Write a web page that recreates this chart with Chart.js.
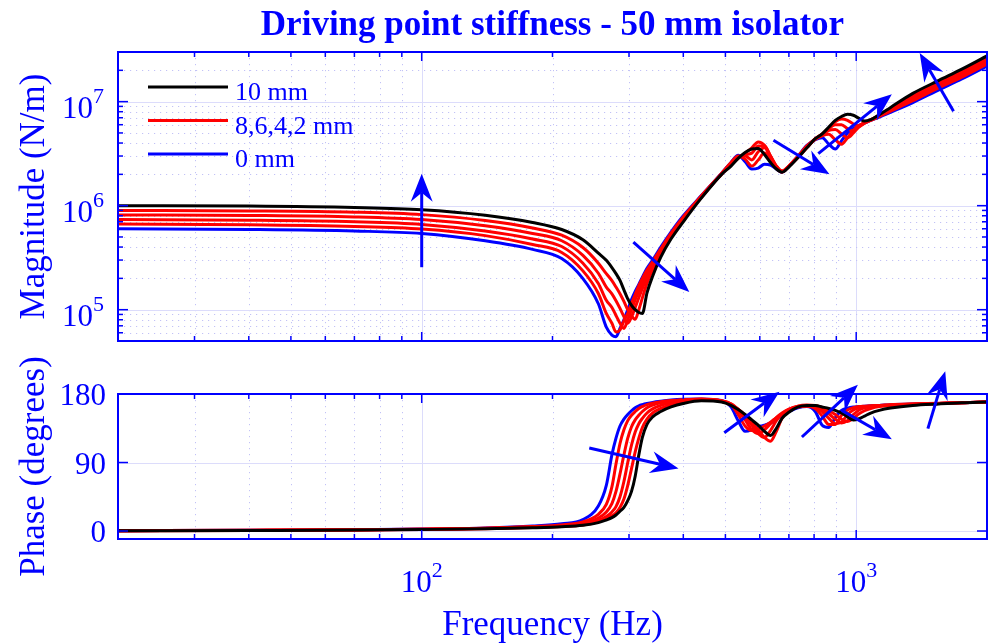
<!DOCTYPE html>
<html lang="en">
<head>
<meta charset="UTF-8">
<title>Driving point stiffness - 50 mm isolator</title>
<script src="https://cdn.jsdelivr.net/npm/chart.js"></script>
<style>
  body { margin: 0; background: #fff; }
  #wrap { position: relative; width: 988px; height: 643px; }
  #wrap canvas { position: absolute; left: 0; }
  #magChart { top: 0; }
  #phaseChart { top: 345px; }
</style>
</head>
<body>
<div id="wrap">
  <canvas id="magChart" width="988" height="345"></canvas>
  <canvas id="phaseChart" width="988" height="298"></canvas>
</div>
<script>
// frequency points (Hz) shared by every curve
const freq = [20, 40, 70, 100, 140, 180, 210, 235, 255, 266, 274, 280, 286, 292, 298, 304, 310, 316, 322, 330,
  340, 355, 375, 400, 440, 490, 515, 535, 555, 575, 595, 615, 635, 655, 675, 700, 735, 770, 805, 835,
  865, 895, 925, 955, 985, 1015, 1045, 1080, 1130, 1200, 1350, 1550, 1750, 2000];

// stiffness magnitude (N/m), one array per preload
const mag10mm = [1.0e6, 9.9e5, 9.6e5, 9.15e5, 8.1e5, 6.9e5, 5.9e5, 4.7e5, 3.5e5, 2.98e5, 2.54e5, 2.22e5, 1.91e5, 1.55e5, 1.27e5, 1.1e5, 1.0e5, 9.4e4, 9.2e4, 1.45e5,
  2.1e5, 3.2e5, 4.8e5, 7.0e5, 1.18e6, 2.0e6, 2.4e6, 2.85e6, 3.25e6, 3.5e6, 3.55e6, 3.1e6, 2.6e6, 2.25e6, 2.1e6, 2.35e6, 2.9e6, 3.6e6, 4.4e6, 4.9e6,
  5.7e6, 6.6e6, 7.2e6, 7.55e6, 7.4e6, 6.9e6, 6.5e6, 6.7e6, 7.5e6, 8.8e6, 1.2e7, 1.6e7, 2.05e7, 2.75e7];
const mag8mm = [9.0e5, 8.9e5, 8.65e5, 8.2e5, 7.2e5, 6.1e5, 5.2e5, 3.96e5, 2.8e5, 2.22e5, 1.9e5, 1.65e5, 1.42e5, 1.2e5, 1.0e5, 8.7e4, 8.1e4, 1.0e5, 1.3e5, 1.8e5,
  2.4e5, 3.4e5, 4.95e5, 7.2e5, 1.2e6, 2.01e6, 2.45e6, 2.85e6, 3.2e6, 3.6e6, 4.1e6, 3.8e6, 3.0e6, 2.4e6, 2.15e6, 2.4e6, 2.9e6, 3.6e6, 4.4e6, 4.9e6,
  5.6e6, 6.4e6, 6.8e6, 6.6e6, 6.1e6, 5.8e6, 6.2e6, 6.7e6, 7.4e6, 8.6e6, 1.16e7, 1.54e7, 1.97e7, 2.62e7];
const mag6mm = [8.15e5, 8.05e5, 7.8e5, 7.35e5, 6.4e5, 5.4e5, 4.6e5, 3.33e5, 2.24e5, 1.65e5, 1.42e5, 1.22e5, 1.03e5, 8.6e4, 7.4e4, 8.5e4, 1.05e5, 1.3e5, 1.6e5, 2.05e5,
  2.6e5, 3.55e5, 5.1e5, 7.4e5, 1.22e6, 2.02e6, 2.5e6, 2.9e6, 3.1e6, 3.2e6, 3.75e6, 3.75e6, 3.0e6, 2.4e6, 2.15e6, 2.4e6, 2.95e6, 3.65e6, 4.4e6, 4.85e6,
  5.5e6, 6.0e6, 6.0e6, 5.5e6, 5.2e6, 5.7e6, 6.3e6, 6.7e6, 7.35e6, 8.5e6, 1.11e7, 1.48e7, 1.88e7, 2.5e7];
const mag4mm = [7.35e5, 7.25e5, 7.0e5, 6.6e5, 5.7e5, 4.78e5, 4.05e5, 2.8e5, 1.79e5, 1.23e5, 1.05e5, 8.8e4, 7.4e4, 6.6e4, 8.0e4, 1.0e5, 1.25e5, 1.5e5, 1.8e5, 2.25e5,
  2.75e5, 3.7e5, 5.3e5, 7.6e5, 1.23e6, 2.03e6, 2.55e6, 2.95e6, 3.0e6, 2.75e6, 3.3e6, 3.6e6, 2.95e6, 2.35e6, 2.12e6, 2.4e6, 2.95e6, 3.7e6, 4.35e6, 4.8e6,
  5.3e6, 5.4e6, 4.9e6, 4.5e6, 5.0e6, 5.8e6, 6.3e6, 6.65e6, 7.3e6, 8.3e6, 1.07e7, 1.42e7, 1.8e7, 2.4e7];
const mag2mm = [6.65e5, 6.55e5, 6.3e5, 5.95e5, 5.15e5, 4.23e5, 3.55e5, 2.36e5, 1.43e5, 9.2e4, 7.4e4, 6.1e4, 6.4e4, 7.8e4, 9.2e4, 1.15e5, 1.4e5, 1.7e5, 2.0e5, 2.4e5,
  2.9e5, 3.85e5, 5.45e5, 7.8e5, 1.24e6, 2.04e6, 2.6e6, 3.0e6, 2.8e6, 2.4e6, 2.75e6, 3.2e6, 2.85e6, 2.3e6, 2.1e6, 2.4e6, 3.0e6, 3.75e6, 4.35e6, 4.7e6,
  4.85e6, 4.3e6, 3.9e6, 4.5e6, 5.3e6, 5.9e6, 6.25e6, 6.6e6, 7.2e6, 8.1e6, 1.02e7, 1.36e7, 1.72e7, 2.3e7];
const mag0mm = [6.0e5, 5.9e5, 5.7e5, 5.4e5, 4.6e5, 3.8e5, 3.1e5, 1.99e5, 1.14e5, 6.8e4, 5.7e4, 5.5e4, 6.6e4, 8.0e4, 1.0e5, 1.25e5, 1.5e5, 1.75e5, 2.05e5, 2.5e5,
  3.0e5, 4.0e5, 5.6e5, 8.0e5, 1.25e6, 2.05e6, 2.6e6, 3.05e6, 2.65e6, 2.25e6, 2.3e6, 2.5e6, 2.45e6, 2.25e6, 2.1e6, 2.4e6, 3.0e6, 3.8e6, 4.3e6, 4.5e6,
  3.9e6, 3.5e6, 4.2e6, 5.0e6, 5.5e6, 5.9e6, 6.2e6, 6.6e6, 7.1e6, 7.9e6, 9.8e6, 1.3e7, 1.65e7, 2.2e7];

// phase (degrees)
const phase10mm = [0.3, 0.7, 1.2, 2.0, 3.0, 4.3, 5.6, 7.5, 11, 14.5, 17.5, 21, 26, 31, 40, 52, 72, 100, 123, 140,
  150, 157, 163, 167.5, 171, 169.5, 165, 159.5, 153, 146, 139, 131, 125.5, 135, 148, 156, 163, 165, 165, 163,
  161, 158.5, 155, 150, 146, 147.5, 151, 155, 158.5, 161.5, 165, 167, 168.5, 169.5];
const phase8mm = [0.35, 0.75, 1.3, 2.1, 3.1, 4.6, 6, 8, 12, 16, 20, 24, 31, 42, 60, 82, 104, 122, 136, 147,
  155, 161, 166, 170, 172, 170, 166, 160, 152, 143, 133, 123, 118, 131, 148, 158, 164, 165.5, 165, 162,
  158, 153, 147, 144, 148, 154, 158, 161, 163.5, 165, 166.5, 167.5, 168.5, 169.5];
const phase6mm = [0.4, 0.8, 1.4, 2.2, 3.3, 5, 6.5, 9, 14, 19, 25, 32, 45, 65, 90, 113, 130, 141, 148, 155,
  160.5, 165, 168.5, 171, 172.5, 170.5, 167, 160, 151, 139, 128, 123, 132, 145, 154, 160, 164, 165, 164, 160,
  154, 147, 142, 145, 153, 159, 162, 163.5, 164.5, 165.5, 166.5, 167.5, 168.5, 169.5];
const phase4mm = [0.45, 0.85, 1.5, 2.3, 3.5, 5.5, 7, 10.5, 17, 25, 36, 52, 75, 100, 122, 137, 146, 152, 157, 162,
  165.5, 168.5, 170.5, 172, 173, 171, 167, 158, 146, 133, 128, 133, 141, 149, 155, 160, 163.5, 164.5, 163, 157,
  148, 141, 143, 153, 159, 162, 163.5, 164, 164.5, 165.5, 166.5, 167.5, 168.5, 169.5];
const phase2mm = [0.5, 0.9, 1.55, 2.4, 3.7, 6, 8, 12, 22, 35, 58, 88, 115, 133, 145, 152, 157, 161, 163.5, 166,
  168, 170, 171.5, 172.5, 173.3, 171, 166, 153, 138, 132, 134, 138, 143, 149, 154, 159, 163, 164, 161, 151,
  140, 140, 152, 159, 162, 163.5, 164, 164.5, 165, 166, 167, 168, 168.5, 169.5];
const phase0mm = [0.5, 1.0, 1.6, 2.5, 4, 6.5, 9.5, 15, 33, 60, 100, 122, 138, 147, 153, 158, 162, 164.5, 166, 167.5,
  169, 170.5, 172, 173, 173.5, 171.5, 163, 145, 131, 133, 137, 139, 142, 147, 152, 157, 162, 163.5, 157, 139,
  136, 149, 158.5, 161.5, 163, 163.5, 164, 164.5, 165, 166, 167, 167.5, 168.5, 169.5];

const magTicks = [1e5, 1e6, 1e7];
const freqTicks = [100, 1000];
const phaseTicks = [0, 90, 180];

const legendLabels = ['10 mm', '8,6,4,2 mm', '0 mm'];
const legendColors = ['#000000', '#ff0000', '#0000ff'];

// trend arrows, given as [f0, v0, f1, v1] in axis units (tail -> head)
const magArrows = [
  [100, 2.56e5, 100, 2.03e6],
  [307, 4.47e5, 413, 1.48e5],
  [645, 4.25e6, 868, 2.0e6],
  [818, 3.16e6, 1208, 1.18e7],
  [1675, 8.1e6, 1400, 2.93e7]
];
const phaseArrows = [
  [243, 109, 390, 82],
  [497, 129, 666, 183],
  [750, 123.5, 1009, 192],
  [926, 158.5, 1208, 120.5],
  [1462, 134.5, 1603, 210]
];

const BLUE = '#0000ff';
const GRID_MAJOR = '#dcdcfb';
const GRID_MINOR = '#c2c2f6';
const SERIF = "'Liberation Serif', 'Times New Roman', serif";

// black on top, reds, blue underneath
const curves = [
  { mag: mag10mm, phase: phase10mm, color: '#000000' },
  { mag: mag8mm, phase: phase8mm, color: '#ff0000' },
  { mag: mag6mm, phase: phase6mm, color: '#ff0000' },
  { mag: mag4mm, phase: phase4mm, color: '#ff0000' },
  { mag: mag2mm, phase: phase2mm, color: '#ff0000' },
  { mag: mag0mm, phase: phase0mm, color: '#0000ff' }
];

function makeDatasets(key) {
  return curves.map(c => ({
    data: freq.map((f, i) => ({ x: f, y: c[key][i] })),
    borderColor: c.color,
    borderWidth: 3,
    pointRadius: 0,
    cubicInterpolationMode: 'monotone',
    fill: false
  }));
}

// 1..9 x 10^n steps within a log range
function logSteps(min, max) {
  const out = [];
  for (let e = Math.floor(Math.log10(min)); e <= Math.ceil(Math.log10(max)); e++) {
    for (let k = 1; k < 10; k++) {
      const v = k * Math.pow(10, e);
      if (v >= min * 0.999 && v <= max * 1.001) out.push({ v: v, major: k === 1 });
    }
  }
  return out;
}

function seg(ctx, x0, y0, x1, y1) {
  ctx.beginPath();
  ctx.moveTo(x0, y0);
  ctx.lineTo(x1, y1);
  ctx.stroke();
}

function powerLabel(ctx, value, x, yBase, align) {
  const base = '10';
  const sup = String(Math.round(Math.log10(value)));
  ctx.font = '31px ' + SERIF;
  const wb = ctx.measureText(base).width;
  ctx.font = '22px ' + SERIF;
  const ws = ctx.measureText(sup).width;
  const x0 = align === 'right' ? x - wb - ws : x - (wb + ws) / 2;
  ctx.textAlign = 'left';
  ctx.textBaseline = 'alphabetic';
  ctx.font = '31px ' + SERIF;
  ctx.fillText(base, x0, yBase);
  ctx.font = '22px ' + SERIF;
  ctx.fillText(sup, x0 + wb, yBase - 15);
}

function arrow(ctx, x1, y1, x2, y2) {
  const a = Math.atan2(y2 - y1, x2 - x1);
  const ux = Math.cos(a), uy = Math.sin(a);
  const L = 28, W = 11, N = 19;
  const bx = x2 - ux * L, by = y2 - uy * L;
  const nx = x2 - ux * N, ny = y2 - uy * N;
  ctx.strokeStyle = BLUE;
  ctx.lineWidth = 3;
  seg(ctx, x1, y1, nx, ny);
  ctx.fillStyle = BLUE;
  ctx.beginPath();
  ctx.moveTo(x2, y2);
  ctx.lineTo(bx - uy * W, by + ux * W);
  ctx.lineTo(nx, ny);
  ctx.lineTo(bx + uy * W, by - ux * W);
  ctx.closePath();
  ctx.fill();
}

function axesPlugin(cfg) {
  return {
    id: 'axesDecor',
    beforeDatasetsDraw(chart) {
      const { ctx, chartArea: a, scales: { x, y } } = chart;
      ctx.save();
      ctx.lineWidth = 1;
      logSteps(x.min, x.max).forEach(t => {
        const px = Math.round(x.getPixelForValue(t.v)) + 0.5;
        ctx.strokeStyle = t.major ? GRID_MAJOR : GRID_MINOR;
        ctx.setLineDash(t.major ? [] : [1.2, 4.8]);
        seg(ctx, px, a.top, px, a.bottom);
      });
      cfg.yGrid(y).forEach(t => {
        const py = Math.round(y.getPixelForValue(t.v)) + 0.5;
        ctx.strokeStyle = t.major ? GRID_MAJOR : GRID_MINOR;
        ctx.setLineDash(t.major ? [] : [1.2, 4.8]);
        seg(ctx, a.left, py, a.right, py);
      });
      ctx.restore();
    },
    afterDatasetsDraw(chart) {
      const { ctx, chartArea: a, scales: { x, y } } = chart;
      ctx.save();
      ctx.strokeStyle = BLUE;
      ctx.lineWidth = 1.5;
      // inward tick marks
      logSteps(x.min, x.max).forEach(t => {
        const px = x.getPixelForValue(t.v);
        const len = t.major ? 9 : 5;
        seg(ctx, px, a.bottom, px, a.bottom - len);
        seg(ctx, px, a.top, px, a.top + len);
      });
      cfg.yGrid(y).forEach(t => {
        const py = y.getPixelForValue(t.v);
        const len = t.major ? 10 : 5;
        seg(ctx, a.left, py, a.left + len, py);
        seg(ctx, a.right, py, a.right - len, py);
      });
      // axes box
      ctx.lineWidth = 2;
      ctx.strokeRect(a.left, a.top, a.right - a.left, a.bottom - a.top);

      ctx.fillStyle = BLUE;
      cfg.yLabels(ctx, y);

      // y axis title
      ctx.save();
      ctx.translate(44, (a.top + a.bottom) / 2);
      ctx.rotate(-Math.PI / 2);
      ctx.font = '35px ' + SERIF;
      ctx.textAlign = 'center';
      ctx.textBaseline = 'alphabetic';
      ctx.fillText(cfg.yTitle, 0, 0);
      ctx.restore();

      cfg.arrows.forEach(r => {
        arrow(ctx, x.getPixelForValue(r[0]), y.getPixelForValue(r[1]),
          x.getPixelForValue(r[2]), y.getPixelForValue(r[3]));
      });
      if (cfg.extra) cfg.extra(ctx, chart);
      ctx.restore();
    }
  };
}

function baseOptions(yScale, pad) {
  return {
    responsive: false,
    animation: false,
    events: [],
    layout: { padding: pad },
    plugins: { legend: { display: false }, tooltip: { enabled: false } },
    scales: {
      x: { type: 'logarithmic', min: 20, max: 2000, display: false },
      y: Object.assign({ display: false }, yScale)
    }
  };
}

new Chart(document.getElementById('magChart'), {
  type: 'line',
  data: { datasets: makeDatasets('mag') },
  options: baseOptions({ type: 'logarithmic', min: 5e4, max: 3e7 },
    { left: 118, right: 1, top: 52, bottom: 4 }),
  plugins: [axesPlugin({
    yTitle: 'Magnitude (N/m)',
    yGrid: y => logSteps(y.min, y.max),
    yLabels: (ctx, y) => {
      magTicks.forEach(v => powerLabel(ctx, v, 104, y.getPixelForValue(v) + 16, 'right'));
    },
    arrows: magArrows,
    extra: (ctx, chart) => {
      const a = chart.chartArea;
      // title
      ctx.fillStyle = BLUE;
      ctx.font = 'bold 35px ' + SERIF;
      ctx.textAlign = 'center';
      ctx.textBaseline = 'alphabetic';
      ctx.fillText('Driving point stiffness - 50 mm isolator', (a.left + a.right) / 2, 35);
      // legend
      ctx.font = '26px ' + SERIF;
      ctx.textAlign = 'left';
      ctx.lineWidth = 3;
      legendLabels.forEach((lab, i) => {
        const ly = 87 + i * 33.5;
        ctx.strokeStyle = legendColors[i];
        seg(ctx, 148, ly, 228, ly);
        ctx.fillStyle = BLUE;
        ctx.fillText(lab, 235, ly + 13);
      });
    }
  })]
});

new Chart(document.getElementById('phaseChart'), {
  type: 'line',
  data: { datasets: makeDatasets('phase') },
  options: baseOptions({ type: 'linear', min: -10.5, max: 180 },
    { left: 118, right: 1, top: 49, bottom: 104 }),
  plugins: [axesPlugin({
    yTitle: 'Phase (degrees)',
    yGrid: () => phaseTicks.map(v => ({ v: v, major: true })),
    yLabels: (ctx, y) => {
      ctx.font = '31px ' + SERIF;
      ctx.textAlign = 'right';
      ctx.textBaseline = 'alphabetic';
      phaseTicks.forEach(v => ctx.fillText(String(v), 106, y.getPixelForValue(v) + 11));
    },
    arrows: phaseArrows,
    extra: (ctx, chart) => {
      const a = chart.chartArea;
      const x = chart.scales.x;
      ctx.fillStyle = BLUE;
      freqTicks.forEach(v => powerLabel(ctx, v, x.getPixelForValue(v), 247, 'center'));
      ctx.font = '35px ' + SERIF;
      ctx.textAlign = 'center';
      ctx.textBaseline = 'alphabetic';
      ctx.fillText('Frequency (Hz)', (a.left + a.right) / 2, 290);
    }
  })]
});
</script>
</body>
</html>
